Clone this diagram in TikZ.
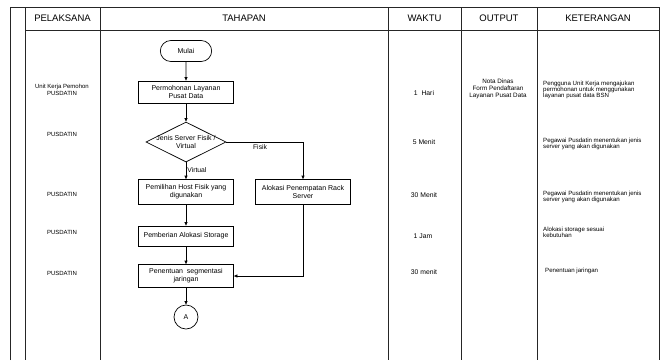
\documentclass[tikz,border=0pt]{standalone}
\usepackage{fontspec}
\setmainfont{Liberation Sans}
\usetikzlibrary{shapes.geometric,shapes.misc,arrows.meta}
\begin{document}
\begin{tikzpicture}[x=1pt,y=-1pt,
  grid/.style={line width=0.9pt,draw=black!85},
  procbox/.style={draw,line width=0.7pt,rectangle,minimum width=95pt,inner sep=1pt,
    align=center,font=\fontsize{7}{8}\selectfont},
  termbox/.style={draw,line width=0.7pt,rounded rectangle,minimum width=58pt,minimum height=21pt,
    font=\fontsize{7}{8}\selectfont},
  decbox/.style={draw,line width=0.7pt,diamond,minimum width=80pt,minimum height=40pt,inner sep=0pt},
  conn/.style={draw,line width=0.7pt,-{Triangle[length=3.5pt,width=3pt]}},
  head/.style={font=\fontsize{9.5}{11}\selectfont},
  side/.style={font=\fontsize{6}{6.5}\selectfont,align=center,inner sep=0pt},
  timetext/.style={font=\fontsize{6.8}{8}\selectfont,inner sep=0pt},
  outtext/.style={font=\fontsize{6.3}{7}\selectfont,align=center,inner sep=0pt},
  notetext/.style={font=\fontsize{6.1}{6.2}\selectfont,align=left,anchor=west,inner sep=0pt},
  lbl/.style={font=\fontsize{6.8}{8}\selectfont,inner sep=1pt}]
\useasboundingbox (0,0) rectangle (666,360);

% table frame
\draw[grid] (10,360) -- (10,7) -- (659,7);
\foreach \xx in {25,100,388,461,537,659}
  \draw[grid] (\xx,7) -- (\xx,360);
\draw[grid] (25,30) -- (659,30);

% header
\node[head] (hpel) at (62.5,18.5) {PELAKSANA};
\node[head] (htah) at (244,18.5) {TAHAPAN};
\node[head] (hwak) at (424.5,18.5) {WAKTU};
\node[head] (hout) at (499,18.5) {OUTPUT};
\node[head] (hket) at (598,18.5) {KETERANGAN};

% flow
\node[termbox] (mulai) at (186,51) {Mulai};
\node[procbox,minimum height=22pt] (perm) at (186,92) {Permohonan Layanan\\Pusat Data};
\node[decbox,label={[font=\fontsize{7}{8.5}\selectfont,align=center]center:{Jenis Server Fisik /\\Virtual}}] (jenis) at (186,142) {};
\node[procbox,minimum height=25pt] (host) at (186,192) {Pemilihan Host Fisik yang\\digunakan};
\node[procbox,minimum height=25pt] (rack) at (303,192) {Alokasi Penempatan Rack\\Server};
\node[procbox,minimum height=20pt] (storage) at (186,236) {Pemberian Alokasi Storage};
\node[procbox,minimum height=23pt] (segmen) at (186,276) {Penentuan~~segmentasi\\jaringan};
\node[draw,line width=0.7pt,circle,minimum size=24pt,inner sep=0pt,font=\fontsize{7}{8}\selectfont] (conA) at (186,317) {A};

\draw[conn] (mulai) -- (perm);
\draw[conn] (perm) -- (jenis);
\draw[conn] (jenis) -- node[lbl,right,pos=0.45] {Virtual} (host);
\draw[conn] (jenis.east) -| node[lbl,below=1.5pt,pos=0.22] {Fisik} (rack.north);
\draw[conn] (host) -- (storage);
\draw[conn] (storage) -- (segmen);
\draw[conn] (rack.south) |- (segmen.east);
\draw[conn] (segmen) -- (conA);

% pelaksana
\node[side] (p1) at (62,90) {Unit Kerja Pemohon\\PUSDATIN};
\node[side] (p2) at (62,134.5) {PUSDATIN};
\node[side] (p3) at (62,194.5) {PUSDATIN};
\node[side] (p4) at (62,232.5) {PUSDATIN};
\node[side] (p5) at (62,273.5) {PUSDATIN};

% waktu
\node[timetext] (w1) at (424,93) {1~~Hari};
\node[timetext] (w2) at (424,142) {5 Menit};
\node[timetext] (w3) at (424,195) {30 Menit};
\node[timetext] (w4) at (423,236) {1 Jam};
\node[timetext] (w5) at (424,272.5) {30 menit};

% output
\node[outtext] (o1) at (498,89) {Nota Dinas\\Form Pendaftaran\\Layanan Pusat Data};

% keterangan
\node[notetext] (k1) at (543,90) {Pengguna Unit Kerja mengajukan\\permohonan untuk menggunakan\\layanan pusat data BSN};
\node[notetext] (k2) at (543,144) {Pegawai Pusdatin menentukan jenis\\server yang akan digunakan};
\node[notetext] (k3) at (543,197) {Pegawai Pusdatin menentukan jenis\\server yang akan digunakan};
\node[notetext] (k4) at (543,232.5) {Alokasi storage sesuai\\kebutuhan};
\node[notetext] (k5) at (545,270.5) {Penentuan jaringan};
\end{tikzpicture}
\end{document}
